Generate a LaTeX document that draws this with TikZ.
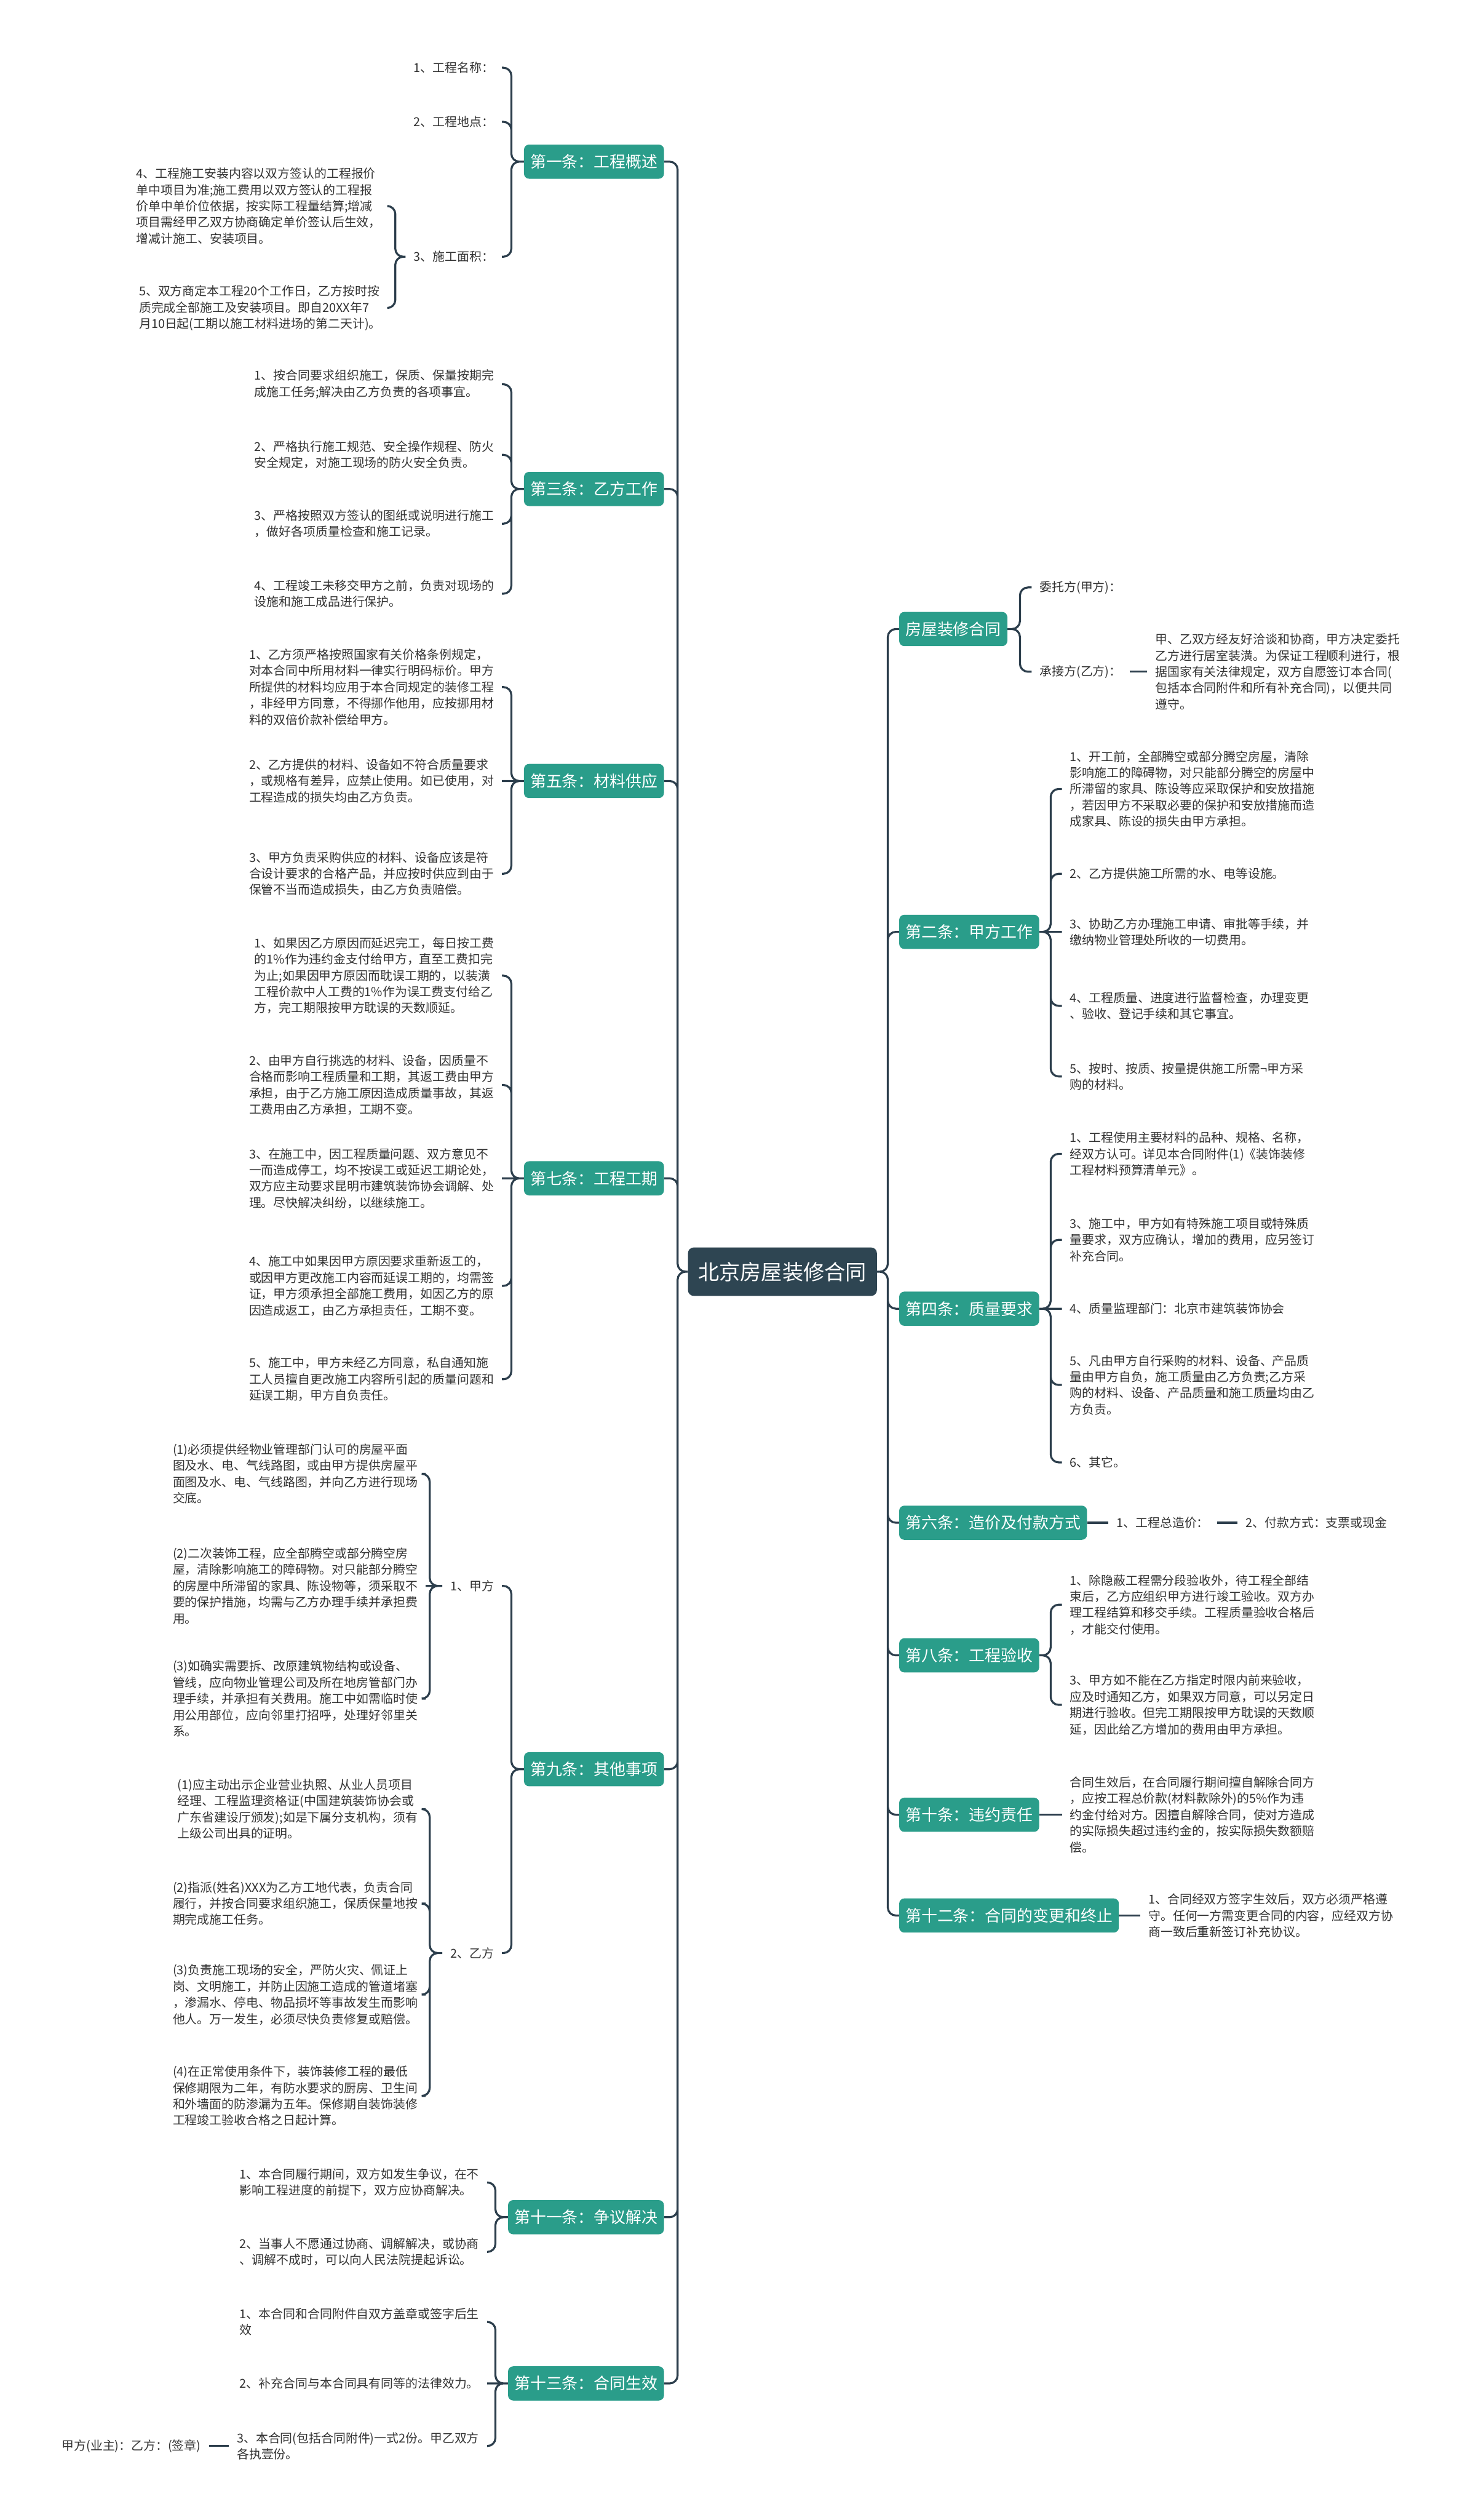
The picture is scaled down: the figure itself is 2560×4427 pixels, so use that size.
\documentclass[tikz,border=0pt]{standalone}
\usepackage{fontspec}
\setmainfont{Noto Sans CJK SC}
\definecolor{rootc}{HTML}{2E4552}
\definecolor{boxc}{HTML}{2A9D8A}
\definecolor{linec}{HTML}{2C3E4C}
\definecolor{leafc}{HTML}{333333}
\tikzset{
  root/.style={fill=rootc,text=white,rounded corners=10,minimum height=85,inner xsep=18,font=\fontsize{37}{44}\selectfont},
  branch/.style={fill=boxc,text=white,rounded corners=9,minimum height=60,inner xsep=11,font=\fontsize{28}{34}\selectfont},
  leaf/.style={align=left,inner xsep=14,inner ysep=3,text=leafc,font=\fontsize{21.5}{28.5}\selectfont},
  leafl/.style={leaf,anchor=east},
  leafr/.style={leaf,anchor=west},
  link/.style={draw=linec,line width=3.5,rounded corners=14},
}
\begin{document}
\begin{tikzpicture}[x=1pt,y=-1pt]
  \fill [white] (0,0) rectangle (2560,4427);
  \useasboundingbox (0,0) rectangle (2560,4427);

  \node [root] (root) at (1375,2234) {北京房屋装修合同}; %中心主题

  \node [branch,anchor=east] (b1) at (1167,284) {第一条：工程概述};
  \node [branch,anchor=east] (b3) at (1167,859) {第三条：乙方工作};
  \node [branch,anchor=east] (b5) at (1167,1372) {第五条：材料供应};
  \node [branch,anchor=east] (b7) at (1167,2070) {第七条：工程工期};
  \node [branch,anchor=east] (b9) at (1167,3108) {第九条：其他事项};
  \node [branch,anchor=east] (b11) at (1167,3895) {第十一条：争议解决};
  \node [branch,anchor=east] (b13) at (1167,4187) {第十三条：合同生效};

  \node [branch,anchor=west] (b0) at (1580,1105) {房屋装修合同};
  \node [branch,anchor=west] (b2) at (1580,1637) {第二条：甲方工作};
  \node [branch,anchor=west] (b4) at (1580,2299) {第四条：质量要求};
  \node [branch,anchor=west] (b6) at (1580,2675) {第六条：造价及付款方式};
  \node [branch,anchor=west] (b8) at (1580,2908) {第八条：工程验收};
  \node [branch,anchor=west] (b10) at (1580,3188) {第十条：违约责任};
  \node [branch,anchor=west] (b12) at (1580,3365) {第十二条：合同的变更和终止};

  % 第一条
  \node [leafl] (l1a) at (882,119) {1、工程名称：};
  \node [leafl] (l1b) at (882,214) {2、工程地点：};
  \node [leafl] (l1c) at (882,451) {3、施工面积：};
  \node [leafl] (l1d) at (684,362) {4、工程施工安装内容以双方签认的工程报价\\单中项目为准;施工费用以双方签认的工程报\\价单中单价位依据，按实际工程量结算;增减\\项目需经甲乙双方协商确定单价签认后生效，\\增减计施工、安装项目。};
  \node [leafl] (l1e) at (684,541) {5、双方商定本工程20个工作日，乙方按时按\\质完成全部施工及安装项目。即自20XX年7\\月10日起(工期以施工材料进场的第二天计)。};

  % 第三条
  \node [leafl] (l3a) at (882,675) {1、按合同要求组织施工，保质、保量按期完\\成施工任务;解决由乙方负责的各项事宜。};
  \node [leafl] (l3b) at (882,799) {2、严格执行施工规范、安全操作规程、防火\\安全规定，对施工现场的防火安全负责。};
  \node [leafl] (l3c) at (882,920) {3、严格按照双方签认的图纸或说明进行施工\\，做好各项质量检查和施工记录。};
  \node [leafl] (l3d) at (882,1043) {4、工程竣工未移交甲方之前，负责对现场的\\设施和施工成品进行保护。};

  % 第五条
  \node [leafl] (l5a) at (882,1207) {1、乙方须严格按照国家有关价格条例规定，\\对本合同中所用材料一律实行明码标价。甲方\\所提供的材料均应用于本合同规定的装修工程\\，非经甲方同意，不得挪作他用，应按挪用材\\料的双倍价款补偿给甲方。};
  \node [leafl] (l5b) at (882,1372) {2、乙方提供的材料、设备如不符合质量要求\\，或规格有差异，应禁止使用。如已使用，对\\工程造成的损失均由乙方负责。};
  \node [leafl] (l5c) at (882,1535) {3、甲方负责采购供应的材料、设备应该是符\\合设计要求的合格产品，并应按时供应到由于\\保管不当而造成损失，由乙方负责赔偿。};

  % 第七条
  \node [leafl] (l7a) at (882,1714) {1、如果因乙方原因而延迟完工，每日按工费\\的1\%作为违约金支付给甲方，直至工费扣完\\为止;如果因甲方原因而耽误工期的，以装潢\\工程价款中人工费的1\%作为误工费支付给乙\\方，完工期限按甲方耽误的天数顺延。};
  \node [leafl] (l7b) at (882,1906) {2、由甲方自行挑选的材料、设备，因质量不\\合格而影响工程质量和工期，其返工费由甲方\\承担，由于乙方施工原因造成质量事故，其返\\工费用由乙方承担，工期不变。};
  \node [leafl] (l7c) at (882,2070) {3、在施工中，因工程质量问题、双方意见不\\一而造成停工，均不按误工或延迟工期论处，\\双方应主动要求昆明市建筑装饰协会调解、处\\理。尽快解决纠纷，以继续施工。};
  \node [leafl] (l7d) at (882,2259) {4、施工中如果因甲方原因要求重新返工的，\\或因甲方更改施工内容而延误工期的，均需签\\证，甲方须承担全部施工费用，如因乙方的原\\因造成返工，由乙方承担责任，工期不变。};
  \node [leafl] (l7e) at (882,2423) {5、施工中，甲方未经乙方同意，私自通知施\\工人员擅自更改施工内容所引起的质量问题和\\延误工期，甲方自负责任。};

  % 第九条
  \node [leafl] (l9a) at (882,2786) {1、甲方};
  \node [leafl] (l9b) at (882,3431) {2、乙方};
  \node [leafl] (l9a1) at (748,2589) {(1)必须提供经物业管理部门认可的房屋平面\\图及水、电、气线路图，或由甲方提供房屋平\\面图及水、电、气线路图，并向乙方进行现场\\交底。};
  \node [leafl] (l9a2) at (748,2786) {(2)二次装饰工程，应全部腾空或部分腾空房\\屋，清除影响施工的障碍物。对只能部分腾空\\的房屋中所滞留的家具、陈设物等，须采取不\\要的保护措施，均需与乙方办理手续并承担费\\用。};
  \node [leafl] (l9a3) at (748,2984) {(3)如确实需要拆、改原建筑物结构或设备、\\管线，应向物业管理公司及所在地房管部门办\\理手续，并承担有关费用。施工中如需临时使\\用公用部位，应向邻里打招呼，处理好邻里关\\系。};
  \node [leafl] (l9b1) at (748,3178) {(1)应主动出示企业营业执照、从业人员项目\\经理、工程监理资格证(中国建筑装饰协会或\\广东省建设厅颁发);如是下属分支机构，须有\\上级公司出具的证明。};
  \node [leafl] (l9b2) at (748,3344) {(2)指派(姓名)XXX为乙方工地代表，负责合同\\履行，并按合同要求组织施工，保质保量地按\\期完成施工任务。};
  \node [leafl] (l9b3) at (748,3504) {(3)负责施工现场的安全，严防火灾、佩证上\\岗、文明施工，并防止因施工造成的管道堵塞\\，渗漏水、停电、物品损坏等事故发生而影响\\他人。万一发生，必须尽快负责修复或赔偿。};
  \node [leafl] (l9b4) at (748,3682) {(4)在正常使用条件下，装饰装修工程的最低\\保修期限为二年，有防水要求的厨房、卫生间\\和外墙面的防渗漏为五年。保修期自装饰装修\\工程竣工验收合格之日起计算。};

  % 第十一条、第十三条
  \node [leafl] (l11a) at (856,3834) {1、本合同履行期间，双方如发生争议，在不\\影响工程进度的前提下，双方应协商解决。};
  \node [leafl] (l11b) at (856,3956) {2、当事人不愿通过协商、调解解决，或协商\\、调解不成时，可以向人民法院提起诉讼。};
  \node [leafl] (l13a) at (856,4079) {1、本合同和合同附件自双方盖章或签字后生\\效};
  \node [leafl] (l13b) at (856,4187) {2、补充合同与本合同具有同等的法律效力。};
  \node [leafl] (l13c) at (856,4297) {3、本合同(包括合同附件)一式2份。甲乙双方\\各执壹份。};
  \node [leafl] (l13d) at (367,4297) {甲方(业主)：乙方：(签章)};

  % 房屋装修合同
  \node [leafr] (l0a) at (1813,1032) {委托方(甲方)：};
  \node [leafr] (l0b) at (1813,1180) {承接方(乙方)：};
  \node [leafr] (l0c) at (2016,1180) {甲、乙双方经友好洽谈和协商，甲方决定委托\\乙方进行居室装潢。为保证工程顺利进行，根\\据国家有关法律规定，双方自愿签订本合同(\\包括本合同附件和所有补充合同)，以便共同\\遵守。};

  % 第二条
  \node [leafr] (l2a) at (1866,1386) {1、开工前，全部腾空或部分腾空房屋，清除\\影响施工的障碍物，对只能部分腾空的房屋中\\所滞留的家具、陈设等应采取保护和安放措施\\，若因甲方不采取必要的保护和安放措施而造\\成家具、陈设的损失由甲方承担。};
  \node [leafr] (l2b) at (1866,1535) {2、乙方提供施工所需的水、电等设施。};
  \node [leafr] (l2c) at (1866,1637) {3、协助乙方办理施工申请、审批等手续，并\\缴纳物业管理处所收的一切费用。};
  \node [leafr] (l2d) at (1866,1767) {4、工程质量、进度进行监督检查，办理变更\\、验收、登记手续和其它事宜。};
  \node [leafr] (l2e) at (1866,1891) {5、按时、按质、按量提供施工所需¬甲方采\\购的材料。};

  % 第四条
  \node [leafr] (l4a) at (1866,2027) {1、工程使用主要材料的品种、规格、名称，\\经双方认可。详见本合同附件(1)《装饰装修\\工程材料预算清单元》。};
  \node [leafr] (l4b) at (1866,2178) {3、施工中，甲方如有特殊施工项目或特殊质\\量要求，双方应确认，增加的费用，应另签订\\补充合同。};
  \node [leafr] (l4c) at (1866,2299) {4、质量监理部门：北京市建筑装饰协会};
  \node [leafr] (l4d) at (1866,2433) {5、凡由甲方自行采购的材料、设备、产品质\\量由甲方自负，施工质量由乙方负责;乙方采\\购的材料、设备、产品质量和施工质量均由乙\\方负责。};
  \node [leafr] (l4e) at (1866,2569) {6、其它。};

  % 第六条、第八条、第十条、第十二条
  \node [leafr] (l6a) at (1948,2675) {1、工程总造价：};
  \node [leafr] (l6b) at (2175,2675) {2、付款方式：支票或现金};
  \node [leafr] (l8a) at (1866,2819) {1、除隐蔽工程需分段验收外，待工程全部结\\束后，乙方应组织甲方进行竣工验收。双方办\\理工程结算和移交手续。工程质量验收合格后\\，才能交付使用。};
  \node [leafr] (l8b) at (1866,2995) {3、甲方如不能在乙方指定时限内前来验收，\\应及时通知乙方，如果双方同意，可以另定日\\期进行验收。但完工期限按甲方耽误的天数顺\\延，因此给乙方增加的费用由甲方承担。};
  \node [leafr] (l10) at (1866,3188) {合同生效后，在合同履行期间擅自解除合同方\\，应按工程总价款(材料款除外)的5\%作为违\\约金付给对方。因擅自解除合同，使对方造成\\的实际损失超过违约金的，按实际损失数额赔\\偿。};
  \node [leafr] (l12) at (2004,3365) {1、合同经双方签字生效后，双方必须严格遵\\守。任何一方需变更合同的内容，应经双方协\\商一致后重新签订补充协议。};

  % 连线
  \draw [link] (root.west) -- ++(-18,0) |- (b1.east) (root.west) -- ++(-18,0) |- (b3.east)
               (root.west) -- ++(-18,0) |- (b5.east) (root.west) -- ++(-18,0) |- (b7.east)
               (root.west) -- ++(-18,0) |- (b9.east) (root.west) -- ++(-18,0) |- (b11.east)
               (root.west) -- ++(-18,0) |- (b13.east);
  \draw [link] (root.east) -- ++(19,0) |- (b0.west) (root.east) -- ++(19,0) |- (b2.west)
               (root.east) -- ++(19,0) |- (b4.west) (root.east) -- ++(19,0) |- (b6.west)
               (root.east) -- ++(19,0) |- (b8.west) (root.east) -- ++(19,0) |- (b10.west)
               (root.east) -- ++(19,0) |- (b12.west);

  \draw [link] (b1.west) -- ++(-22,0) |- (l1a.east) (b1.west) -- ++(-22,0) |- (l1b.east)
               (b1.west) -- ++(-22,0) |- (l1c.east);
  \draw [link] (l1c.west) -- ++(-18,0) |- (l1d.east) (l1c.west) -- ++(-18,0) |- (l1e.east);
  \draw [link] (b3.west) -- ++(-22,0) |- (l3a.east) (b3.west) -- ++(-22,0) |- (l3b.east)
               (b3.west) -- ++(-22,0) |- (l3c.east) (b3.west) -- ++(-22,0) |- (l3d.east);
  \draw [link] (b5.west) -- ++(-22,0) |- (l5a.east) (b5.west) -- (l5b.east)
               (b5.west) -- ++(-22,0) |- (l5c.east);
  \draw [link] (b7.west) -- ++(-22,0) |- (l7a.east) (b7.west) -- ++(-22,0) |- (l7b.east)
               (b7.west) -- (l7c.east)
               (b7.west) -- ++(-22,0) |- (l7d.east) (b7.west) -- ++(-22,0) |- (l7e.east);
  \draw [link] (b9.west) -- ++(-22,0) |- (l9a.east) (b9.west) -- ++(-22,0) |- (l9b.east);
  \draw [link] (l9a.west) -- ++(-22,0) |- (l9a1.east) (l9a.west) -- (l9a2.east)
               (l9a.west) -- ++(-22,0) |- (l9a3.east);
  \draw [link] (l9b.west) -- ++(-22,0) |- (l9b1.east) (l9b.west) -- ++(-22,0) |- (l9b2.east)
               (l9b.west) -- ++(-22,0) |- (l9b3.east) (l9b.west) -- ++(-22,0) |- (l9b4.east);
  \draw [link] (b11.west) -- ++(-22,0) |- (l11a.east) (b11.west) -- ++(-22,0) |- (l11b.east);
  \draw [link] (b13.west) -- ++(-22,0) |- (l13a.east) (b13.west) -- (l13b.east)
               (b13.west) -- ++(-22,0) |- (l13c.east);
  \draw [link] (l13c.west) -- (l13d.east);

  \draw [link] (b0.east) -- ++(22,0) |- (l0a.west) (b0.east) -- ++(22,0) |- (l0b.west);
  \draw [link] (l0b.east) -- (l0c.west);
  \draw [link] (b2.east) -- ++(20,0) |- (l2a.west) (b2.east) -- ++(20,0) |- (l2b.west)
               (b2.east) -- (l2c.west)
               (b2.east) -- ++(20,0) |- (l2d.west) (b2.east) -- ++(20,0) |- (l2e.west);
  \draw [link] (b4.east) -- ++(20,0) |- (l4a.west) (b4.east) -- ++(20,0) |- (l4b.west)
               (b4.east) -- (l4c.west)
               (b4.east) -- ++(20,0) |- (l4d.west) (b4.east) -- ++(20,0) |- (l4e.west);
  \draw [link] (b6.east) -- (l6a.west) (l6a.east) -- (l6b.west);
  \draw [link] (b8.east) -- ++(20,0) |- (l8a.west) (b8.east) -- ++(20,0) |- (l8b.west);
  \draw [link] (b10.east) -- (l10.west);
  \draw [link] (b12.east) -- (l12.west);
\end{tikzpicture}
\end{document}
